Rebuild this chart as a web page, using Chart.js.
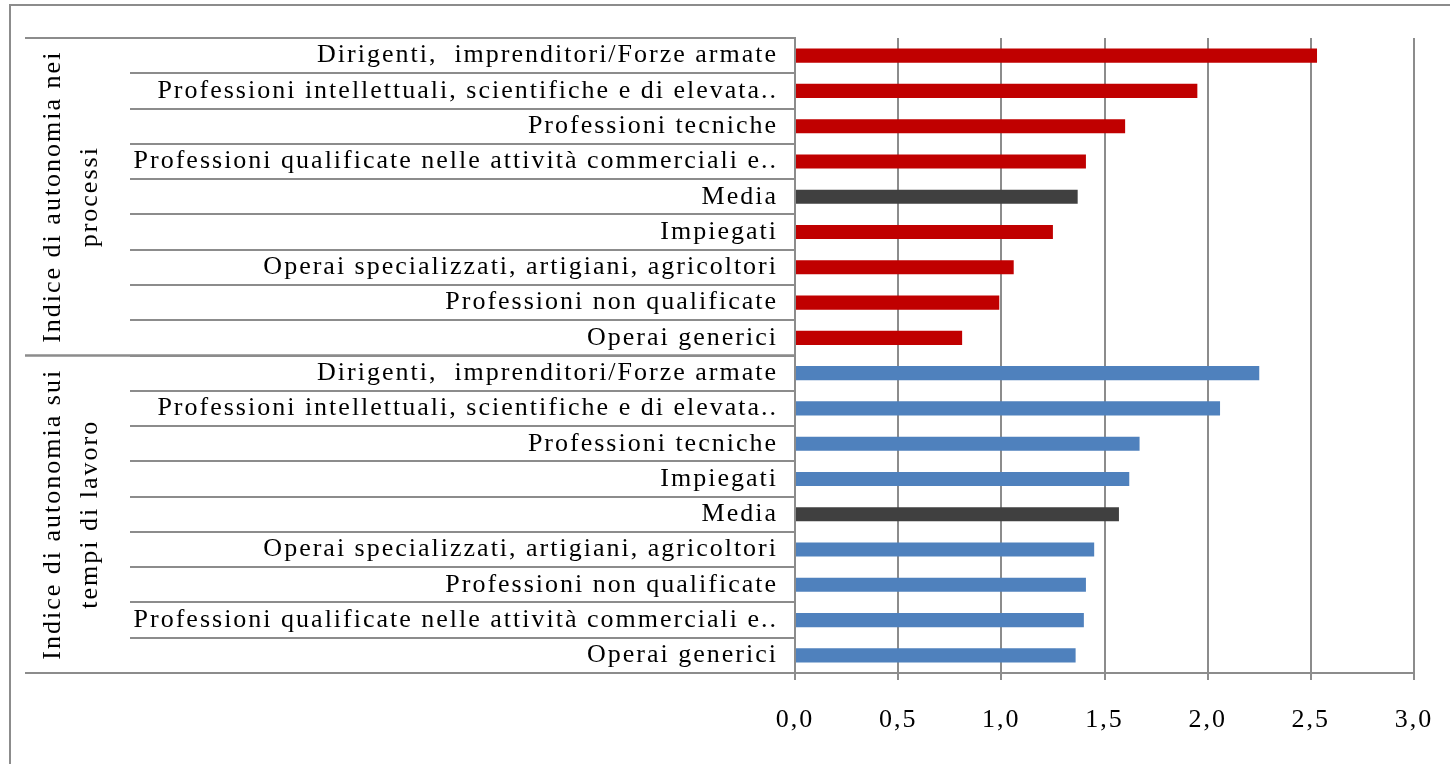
<!DOCTYPE html>
<html>
<head>
<meta charset="utf-8">
<script src="https://cdn.jsdelivr.net/npm/chart.js@4"></script>
<style>
  html, body { margin: 0; padding: 0; background: #fff; }
  #wrap { position: relative; width: 1450px; height: 764px; }
</style>
</head>
<body>
<div id="wrap"><canvas id="chart" width="1450" height="764"></canvas></div>
<script>
// gruppi (etichette ruotate a sinistra)
const groupLines = [
    ["Indice di autonomia nei", "processi"],
    ["Indice di autonomia sui", "tempi di lavoro"]
];

// indice di autonomia nei processi
const processiLabels = [
    "Dirigenti,  imprenditori/Forze armate",
    "Professioni intellettuali, scientifiche e di elevata..",
    "Professioni tecniche",
    "Professioni qualificate nelle attività commerciali e..",
    "Media",
    "Impiegati",
    "Operai specializzati, artigiani, agricoltori",
    "Professioni non qualificate",
    "Operai generici"
];
const processiValues = [2.53, 1.95, 1.60, 1.41, 1.37, 1.25, 1.06, 0.99, 0.81];

// indice di autonomia sui tempi di lavoro
const tempiLabels = [
    "Dirigenti,  imprenditori/Forze armate",
    "Professioni intellettuali, scientifiche e di elevata..",
    "Professioni tecniche",
    "Impiegati",
    "Media",
    "Operai specializzati, artigiani, agricoltori",
    "Professioni non qualificate",
    "Professioni qualificate nelle attività commerciali e..",
    "Operai generici"
];
const tempiValues = [2.25, 2.06, 1.67, 1.62, 1.57, 1.45, 1.41, 1.40, 1.36];

// asse dei valori
const xMin = 0;
const xMax = 3;
const xStep = 0.5;

const red = "#c00000";
const blue = "#4f81bd";
const dark = "#404040";
const gray = "#8c8c8c";
const font = "'Liberation Serif', 'Times New Roman', serif";
const fontSize = 26;

let labels = processiLabels.concat(tempiLabels);
let values = processiValues.concat(tempiValues);
let colors = labels.map((l, i) => l === "Media" ? dark : (i < processiLabels.length ? red : blue));

function spacing(chart) {
    chart.ctx.letterSpacing = "2px";
}

// linee di separazione dei gruppi, etichette ruotate, cornice
const groupPlugin = {
    id: "groupPlugin",
    beforeLayout: spacing,
    beforeDraw: function(chart) {
        spacing(chart);
        let ctx = chart.ctx;
        ctx.save();
        ctx.strokeStyle = gray;
        ctx.lineWidth = 2;
        ctx.strokeRect(10, 5, 1460, 780);
        ctx.restore();
    },
    afterDraw: function(chart) {
        let ctx = chart.ctx;
        let y = chart.scales.y;
        let sizes = [processiLabels.length, tempiLabels.length];
        let half = (y.getPixelForValue(1) - y.getPixelForValue(0)) / 2;
        let start = 0;
        ctx.save();
        ctx.strokeStyle = gray;
        ctx.lineWidth = 2;
        let edges = [];
        sizes.forEach((n, g) => {
            let top = y.getPixelForValue(start) - half;
            let bottom = y.getPixelForValue(start + n - 1) + half;
            edges.push(top, bottom);
            ctx.fillStyle = "#000";
            ctx.font = fontSize + "px " + font;
            ctx.textAlign = "center";
            ctx.textBaseline = "middle";
            let cy = (top + bottom) / 2;
            groupLines[g].forEach((line, k) => {
                ctx.save();
                ctx.translate(53 + k * 37, cy);
                ctx.rotate(-Math.PI / 2);
                ctx.fillText(line, 0, 0);
                ctx.restore();
            });
            start += n;
        });
        edges.forEach(e => {
            ctx.beginPath();
            ctx.moveTo(25, e);
            ctx.lineTo(y.right, e);
            ctx.stroke();
        });
        ctx.restore();
    }
};

new Chart(document.getElementById("chart"), {
    type: "bar",
    data: {
        labels: labels,
        datasets: [{
            data: values,
            backgroundColor: colors,
            barPercentage: 0.4,
            categoryPercentage: 1
        }]
    },
    options: {
        indexAxis: "y",
        responsive: false,
        animation: false,
        layout: { padding: { left: 25, top: 38, right: 36, bottom: 0 } },
        plugins: { legend: { display: false }, tooltip: { enabled: false } },
        scales: {
            x: {
                min: xMin,
                max: xMax,
                afterFit: s => { s.height = 91; s.paddingLeft = 0; s.paddingRight = 0; },
                border: { color: gray, width: 2 },
                grid: { color: gray, lineWidth: 2, tickLength: 7 },
                ticks: {
                    stepSize: xStep,
                    color: "#000",
                    padding: 25,
                    font: { family: font, size: fontSize },
                    callback: v => v.toFixed(1).replace(".", ",")
                }
            },
            y: {
                afterFit: s => { s.width = 770; },
                border: { color: gray, width: 2 },
                grid: { color: gray, lineWidth: 2, offset: true, drawOnChartArea: false, tickLength: 665 },
                ticks: {
                    color: "#000",
                    padding: -648,
                    autoSkip: false,
                    font: { family: font, size: fontSize }
                }
            }
        }
    },
    plugins: [groupPlugin]
});
</script>
</body>
</html>
